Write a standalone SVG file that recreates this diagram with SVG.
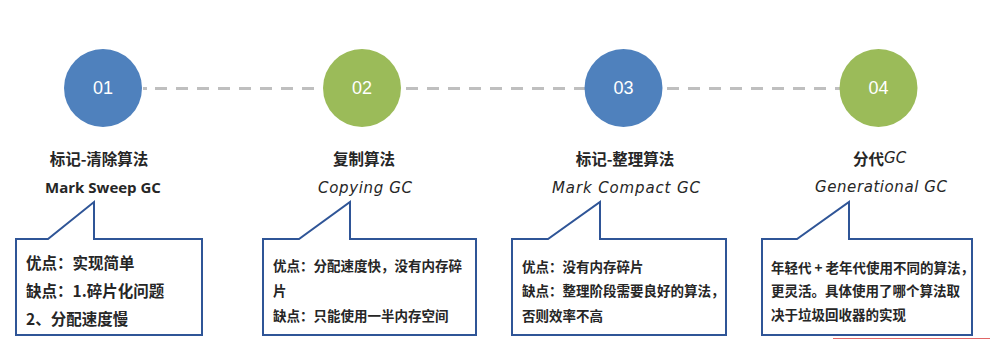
<svg xmlns="http://www.w3.org/2000/svg" width="990" height="339" viewBox="0 0 990 339">
<style>
.circ-blue{fill:#4f81bd}
.circ-green{fill:#9bbb59}
.num{font-family:"Liberation Sans",Arial,sans-serif;font-size:18px;fill:#ffffff;text-anchor:middle;dominant-baseline:central}
.title{font-family:"Noto Sans CJK SC","Noto Sans",sans-serif;font-weight:bold;font-size:15.5px;fill:#262626;text-anchor:middle;dominant-baseline:central}
.sub-bold{font-family:"Open Sans","Noto Sans",sans-serif;font-weight:bold;font-size:15px;fill:#262626;text-anchor:middle;dominant-baseline:central}
.hand{font-family:"DejaVu Sans","Noto Sans",sans-serif;font-style:italic;font-weight:normal;font-size:15px;fill:#262626;dominant-baseline:central}
.callout{fill:#ffffff;stroke:#2f5597;stroke-width:2;stroke-linejoin:miter}
.body{font-family:"Noto Sans CJK SC","Noto Sans",sans-serif;font-weight:bold;font-size:13.5px;fill:#262626;dominant-baseline:central}
.body15{font-family:"Noto Sans CJK SC","Noto Sans",sans-serif;font-weight:bold;font-size:15.5px;fill:#262626;dominant-baseline:central}
.dash{stroke:#bfbfbf;stroke-width:3;stroke-dasharray:12 9;fill:none}
</style>
<g id="connectors">
<line class="dash" x1="155" y1="88.5" x2="323" y2="88.5"/>
<line class="dash" x1="406" y1="88.5" x2="585" y2="88.5"/>
<line class="dash" x1="667" y1="88.5" x2="840" y2="88.5"/>
<line x1="143" y1="88.5" x2="147" y2="88.5" stroke="#bfbfbf" stroke-width="3"/>
</g>
<g id="node1">
<circle class="circ-blue" cx="103" cy="88" r="39"/>
<text class="num" x="103" y="88">01</text>
<text class="title" x="99" y="158">标记-清除算法</text>
<text class="sub-bold" x="103" y="187">Mark Sweep GC</text>
<path class="callout" d="M16,239 H48 L94,202 V239 H202 V335 H16 Z"/>
<text class="body15" x="26" y="262">优点：实现简单</text>
<text class="body15" x="26" y="290">缺点：1.碎片化问题</text>
<text class="body15" x="26" y="318">2、分配速度慢</text>
</g>
<g id="node2">
<circle class="circ-green" cx="362" cy="88" r="39"/>
<text class="num" x="362" y="88">02</text>
<text class="title" x="364" y="158">复制算法</text>
<text class="hand" x="365" y="188" text-anchor="middle" textLength="94">Copying GC</text>
<path class="callout" d="M263,239 H299 L350,202 V239 H476 V335 H263 Z"/>
<text class="body" x="273" y="265">优点：分配速度快，没有内存碎</text>
<text class="body" x="273" y="290">片</text>
<text class="body" x="273" y="315">缺点：只能使用一半内存空间</text>
</g>
<g id="node3">
<circle class="circ-blue" cx="623.5" cy="88" r="39"/>
<text class="num" x="623.5" y="88">03</text>
<text class="title" x="625" y="158">标记-整理算法</text>
<text class="hand" x="626" y="188" text-anchor="middle" textLength="148">Mark Compact GC</text>
<path class="callout" d="M512,239 H548 L600,202 V239 H726 V335 H512 Z"/>
<text class="body" x="522" y="266">优点：没有内存碎片</text>
<text class="body" x="522" y="290">缺点：整理阶段需要良好的算法，</text>
<text class="body" x="522" y="315">否则效率不高</text>
</g>
<g id="node4">
<circle class="circ-green" cx="878.5" cy="88" r="39"/>
<text class="num" x="878.5" y="88">04</text>
<text x="853" y="158" dominant-baseline="central"><tspan class="title" style="text-anchor:start">分代</tspan><tspan class="hand">GC</tspan></text>
<text class="hand" x="881" y="187" text-anchor="middle" textLength="132">Generational GC</text>
<path class="callout" d="M762,239 H797 L849,202 V239 H972 V335 H762 Z"/>
<text class="body" x="771" y="267">年轻代 + 老年代使用不同的算法，</text>
<text class="body" x="771" y="290">更灵活。具体使用了哪个算法取</text>
<text class="body" x="771" y="314">决于垃圾回收器的实现</text>
</g>
<line x1="833" y1="338.5" x2="990" y2="338.5" stroke="#e06666" stroke-width="1"/>
</svg>
